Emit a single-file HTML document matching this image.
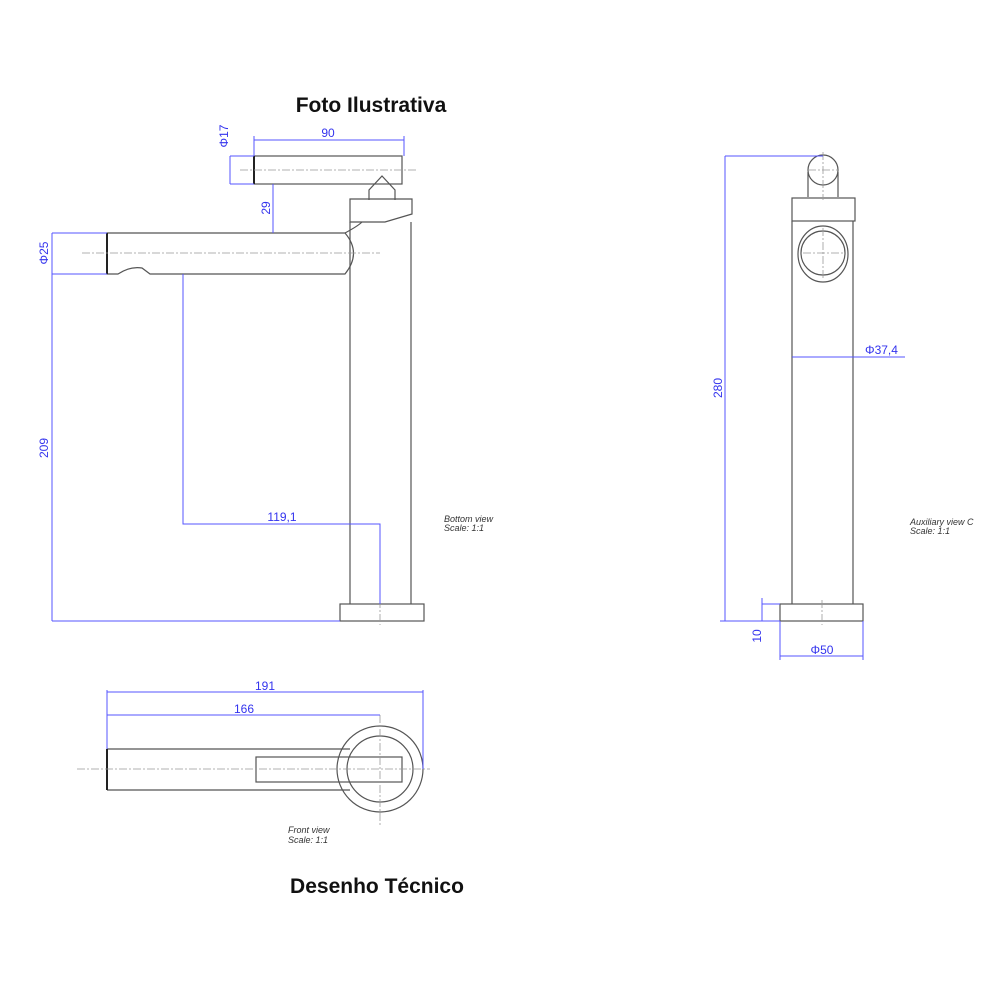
<!DOCTYPE html>
<html><head><meta charset="utf-8"><style>
body{margin:0;background:#fff;width:1000px;height:1000px;overflow:hidden}
svg{display:block}
.t{font-family:"Liberation Sans",sans-serif}
</style></head><body>
<svg width="1000" height="1000" viewBox="0 0 1000 1000" xmlns="http://www.w3.org/2000/svg">
<g class="t">
<text x="371" y="112" font-size="21" font-weight="bold" text-anchor="middle" fill="#111">Foto Ilustrativa</text>
<text x="377" y="893" font-size="21" font-weight="bold" text-anchor="middle" fill="#111">Desenho Técnico</text>
</g>
<!-- LEFT VIEW -->
<g fill="none" stroke="#555" stroke-width="1.2">
<rect x="254" y="156" width="148" height="28"/>
<path d="M369 200 L369 190 L382 176 L395 190 L395 200"/>
<path d="M350 199 H412 V214 L385 222 H350 Z"/>
<line x1="350" y1="222" x2="350" y2="604"/>
<line x1="411" y1="222" x2="411" y2="604"/>
<path d="M107 233 H345 Q362 253 345 274 H150 L142 268 Q130 266 118 274 H107 Z"/>
<path d="M345 233 Q358 226 362 222"/>
<rect x="340" y="604" width="84" height="17"/>
</g>
<line x1="107" y1="233" x2="107" y2="274" stroke="#222" stroke-width="2"/>
<line x1="254" y1="156" x2="254" y2="184" stroke="#222" stroke-width="2"/>
<g stroke="#999" stroke-width="0.8" stroke-dasharray="8 2 2 2">
<line x1="240" y1="170" x2="418" y2="170"/>
<line x1="82" y1="253" x2="380" y2="253"/>
<line x1="380" y1="600" x2="380" y2="625"/>
</g>
<g stroke="#5555ff" stroke-width="1" fill="none">
<line x1="254" y1="140" x2="404" y2="140"/><line x1="254" y1="136" x2="254" y2="156"/><line x1="404" y1="136" x2="404" y2="156"/>
<line x1="230" y1="156" x2="254" y2="156"/><line x1="230" y1="184" x2="254" y2="184"/><line x1="230" y1="156" x2="230" y2="184"/>
<line x1="273" y1="184" x2="273" y2="233"/>
<line x1="52" y1="233" x2="107" y2="233"/><line x1="52" y1="274" x2="107" y2="274"/><line x1="52" y1="233" x2="52" y2="621"/>
<line x1="52" y1="621" x2="340" y2="621"/>
<polyline points="183,274 183,524 380,524 380,604"/>
</g>
<g class="t" fill="#3333ee" font-size="12">
<text x="328" y="137" text-anchor="middle">90</text>
<text transform="translate(228,136) rotate(-90)" text-anchor="middle">Φ17</text>
<text transform="translate(270,208) rotate(-90)" text-anchor="middle">29</text>
<text transform="translate(48,253) rotate(-90)" text-anchor="middle">Φ25</text>
<text transform="translate(48,448) rotate(-90)" text-anchor="middle">209</text>
<text x="282" y="521" text-anchor="middle">119,1</text>
</g>
<g class="t" fill="#333" font-size="9" font-style="italic">
<text x="444" y="522">Bottom view</text><text x="444" y="531">Scale:  1:1</text>
<text x="910" y="525">Auxiliary view C</text><text x="910" y="534">Scale:  1:1</text>
<text x="288" y="833">Front view</text><text x="288" y="843">Scale:  1:1</text>
</g>
<!-- RIGHT VIEW -->
<g fill="none" stroke="#555" stroke-width="1.2">
<circle cx="823" cy="170" r="15"/>
<path d="M808 172 V197 M838 172 V197"/>
<rect x="792" y="198" width="63" height="23"/>
<line x1="792" y1="221" x2="792" y2="604"/><line x1="853" y1="221" x2="853" y2="604"/>
<circle cx="823" cy="253" r="22"/>
<ellipse cx="823" cy="254" rx="25" ry="28"/>
<rect x="780" y="604" width="83" height="17"/>
</g>
<g stroke="#999" stroke-width="0.8" stroke-dasharray="8 2 2 2">
<line x1="803" y1="253" x2="843" y2="253"/><line x1="823" y1="228" x2="823" y2="280"/>
<line x1="808" y1="170" x2="838" y2="170"/><line x1="823" y1="152" x2="823" y2="200"/>
<line x1="822" y1="600" x2="822" y2="625"/>
</g>
<g stroke="#5555ff" stroke-width="1" fill="none">
<line x1="725" y1="156" x2="823" y2="156"/><line x1="725" y1="156" x2="725" y2="621"/><line x1="720" y1="621" x2="780" y2="621"/>
<line x1="792" y1="357" x2="905" y2="357"/>
<line x1="762" y1="604" x2="780" y2="604"/><line x1="762" y1="598" x2="762" y2="621"/>
<line x1="780" y1="621" x2="780" y2="660"/><line x1="863" y1="621" x2="863" y2="660"/><line x1="780" y1="656" x2="863" y2="656"/>
</g>
<g class="t" fill="#3333ee" font-size="12">
<text x="865" y="354">Φ37,4</text>
<text transform="translate(722,388) rotate(-90)" text-anchor="middle">280</text>
<text transform="translate(761,636) rotate(-90)" text-anchor="middle">10</text>
<text x="822" y="654" text-anchor="middle">Φ50</text>
</g>
<!-- BOTTOM VIEW -->
<g fill="none" stroke="#555" stroke-width="1.2">
<circle cx="380" cy="769" r="43"/>
<circle cx="380" cy="769" r="33"/>
<path d="M107 749 H350 M107 790 H350"/>
<rect x="256" y="757" width="146" height="25"/>
</g>
<line x1="107" y1="749" x2="107" y2="790" stroke="#222" stroke-width="2"/>
<g stroke="#999" stroke-width="0.8" stroke-dasharray="8 2 2 2">
<line x1="77" y1="769" x2="430" y2="769"/><line x1="380" y1="715" x2="380" y2="825"/>
</g>
<g stroke="#5555ff" stroke-width="1" fill="none">
<line x1="107" y1="692" x2="423" y2="692"/><line x1="107" y1="715" x2="380" y2="715"/>
<line x1="107" y1="690" x2="107" y2="749"/><line x1="423" y1="690" x2="423" y2="769"/>
</g>
<g class="t" fill="#3333ee" font-size="12">
<text x="265" y="690" text-anchor="middle">191</text>
<text x="244" y="713" text-anchor="middle">166</text>
</g>
</svg>
</body></html>
